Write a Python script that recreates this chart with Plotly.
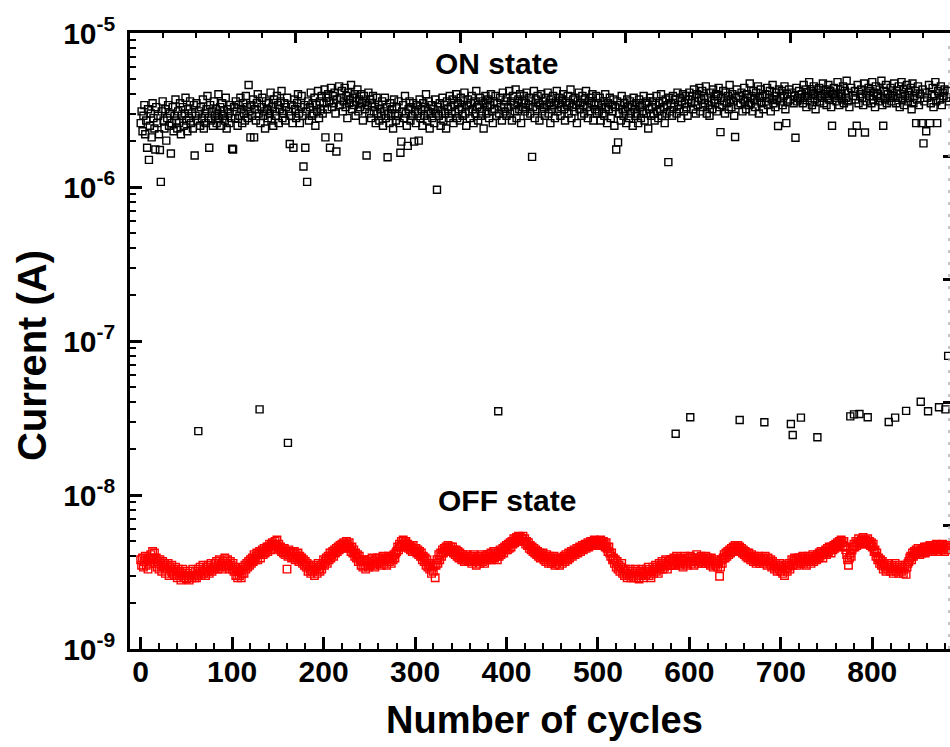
import plotly.graph_objects as go

# ON-state current, in microamperes (one value per cycle, starting at cycle 0)
on_current_uA = [
    2.6, 3.1, 2.3, 2.9, 3.4, 2.2, 2.7, 1.8, 3.2, 1.5, 2.5, 3.0, 2.1, 3.5, 2.8, 2.4, 1.75, 3.3, 2.6, 2.9,
    2.2, 1.74, 1.08, 3.1, 3.6, 2.7, 2.4, 3.2, 2.0, 2.8, 3.4, 2.5, 3.0, 1.65, 2.6, 3.3, 2.3, 2.9, 3.7, 2.7,
    2.4, 3.1, 2.6, 3.5, 2.2, 2.9, 3.3, 2.5, 3.0, 3.8, 2.7, 2.3, 3.2, 2.8, 3.6, 2.6, 3.0, 2.4, 3.4, 1.6,
    2.9, 3.5, 2.7, 0.026, 3.1, 2.5, 3.3, 2.8, 3.7, 2.4, 3.0, 2.6, 3.2, 3.9, 2.8, 1.8, 3.4, 2.7, 3.1, 2.5,
    3.6, 2.9, 3.2, 2.6, 3.0, 4.0, 2.8, 3.3, 2.5, 3.5, 2.9, 3.1, 2.7, 3.8, 2.4, 3.2, 3.0, 2.6, 3.4, 2.8,
    1.77, 1.75, 3.3, 2.8, 3.6, 3.1, 2.5, 3.4, 2.9, 3.8, 3.2, 2.6, 3.5, 3.0, 2.7, 3.9, 3.3, 2.8, 4.6, 3.1,
    2.1, 3.4, 2.9, 3.7, 2.1, 3.2, 2.7, 3.5, 4.0, 3.0, 0.036, 2.6, 3.3, 3.8, 2.9, 3.1, 2.4, 3.6, 3.2, 2.8,
    3.5, 3.0, 4.1, 2.7, 3.3, 2.5, 3.7, 3.1, 2.9, 3.9, 3.4, 2.6, 3.2, 3.6, 4.2, 2.8, 3.0, 3.5, 2.7, 3.3,
    3.8, 0.0218, 3.1, 1.9, 2.9, 3.4, 2.6, 1.8, 3.7, 3.2, 2.8, 3.5, 4.0, 3.0, 2.6, 3.3, 3.9, 2.9, 1.36, 3.4,
    1.8, 3.1, 1.08, 3.6, 2.7, 3.3, 4.1, 2.9, 3.5, 3.0, 3.8, 2.5, 3.4, 3.1, 4.2, 2.8, 3.6, 3.2, 3.9, 3.0,
    3.5, 4.3, 2.1, 3.8, 3.2, 4.0, 3.6, 1.8, 4.4, 3.3, 3.9, 3.5, 4.1, 3.0, 1.7, 3.7, 2.1, 4.5, 3.4, 3.8,
    4.2, 3.1, 3.6, 4.4, 3.3, 3.9, 2.8, 4.1, 3.5, 3.7, 4.6, 3.2, 3.8, 3.4, 4.0, 2.9, 3.6, 4.3, 3.1, 3.7,
    3.3, 4.0, 3.5, 2.7, 3.9, 3.2, 3.6, 1.6, 3.4, 4.1, 3.0, 3.7, 2.8, 3.5, 3.9, 3.1, 3.3, 2.6, 3.8, 3.0,
    3.4, 2.7, 3.2, 2.9, 3.6, 2.5, 3.1, 3.8, 2.8, 3.3, 1.56, 3.0, 2.6, 3.5, 2.9, 3.2, 2.4, 3.7, 3.0, 2.7,
    3.3, 2.9, 3.6, 2.6, 1.67, 1.97, 3.1, 3.4, 2.8, 3.9, 3.0, 2.5, 1.85, 3.2, 3.6, 2.7, 3.3, 2.9, 3.5, 1.97,
    3.1, 2.6, 3.4, 3.0, 2.0, 3.7, 2.8, 3.2, 2.5, 3.5, 2.9, 3.3, 4.0, 2.7, 3.1, 3.6, 2.4, 3.0, 3.4, 2.8,
    3.2, 2.6, 3.7, 3.0, 0.96, 3.3, 2.9, 3.5, 2.5, 3.1, 3.8, 2.7, 3.4, 3.0, 2.4, 3.6, 3.2, 2.8, 3.9, 3.3,
    3.0, 3.7, 2.6, 3.4, 3.1, 4.0, 2.8, 3.5, 3.2, 2.7, 3.8, 3.3, 2.9, 3.6, 4.1, 3.0, 2.5, 3.4, 3.7, 3.1,
    2.8, 3.5, 3.9, 3.2, 2.6, 3.6, 3.0, 4.2, 3.3, 2.7, 3.4, 3.8, 2.9, 3.1, 3.6, 2.4, 3.5, 3.9, 3.0, 3.3,
    3.7, 2.8, 3.4, 4.0, 3.1, 2.6, 3.6, 3.2, 3.9, 2.9, 3.5, 0.035, 3.0, 3.8, 3.3, 2.7, 4.1, 3.4, 3.1, 3.6,
    2.9, 3.8, 3.3, 4.2, 3.0, 3.6, 2.7, 3.9, 3.4, 3.1, 4.3, 2.8, 3.5, 3.7, 3.2, 4.0, 2.6, 3.6, 3.3, 3.9,
    3.1, 3.5, 4.1, 2.9, 3.4, 3.8, 3.0, 3.6, 1.57, 3.3, 4.2, 2.8, 3.7, 3.2, 3.9, 3.5, 2.7, 3.4, 4.0, 3.1,
    3.6, 3.3, 2.9, 3.8, 3.4, 4.1, 3.0, 3.5, 2.6, 3.7, 3.2, 3.9, 3.4, 2.8, 3.6, 4.2, 3.1, 3.5, 3.8, 2.9,
    3.3, 3.7, 4.0, 3.2, 2.7, 3.6, 3.4, 3.9, 3.0, 3.5, 4.3, 2.8, 3.3, 3.7, 3.1, 3.8, 3.4, 2.6, 3.6, 4.1,
    3.2, 3.5, 2.9, 3.9, 3.4, 3.0, 3.7, 4.2, 3.3, 2.8, 3.6, 3.1, 3.8, 3.5, 4.0, 2.7, 3.4, 3.2, 3.9, 3.0,
    3.5, 3.1, 3.8, 2.7, 3.4, 3.0, 3.6, 2.9, 4.0, 3.3, 2.6, 3.5, 3.2, 3.8, 2.8, 3.4, 3.1, 3.7, 2.5, 3.3,
    1.75, 3.6, 1.95, 3.0, 3.4, 2.7, 3.9, 3.2, 2.9, 3.5, 3.1, 2.6, 3.7, 3.3, 2.8, 3.6, 3.0, 3.4, 2.5, 3.8,
    3.2, 2.9, 3.5, 3.0, 2.6, 3.7, 3.3, 2.8, 3.4, 3.1, 3.9, 2.7, 3.5, 3.0, 3.6, 2.4, 3.2, 3.8, 2.9, 3.3,
    3.6, 3.0, 2.7, 3.4, 3.9, 3.1, 2.8, 3.5, 3.2, 4.0, 2.9, 3.6, 3.3, 2.6, 3.7, 3.0, 3.4, 1.45, 3.8, 3.1,
    3.5, 2.9, 3.9, 3.3, 3.7, 0.025, 3.0, 4.1, 3.4, 3.2, 3.8, 2.8, 3.6, 4.0, 3.1, 3.5, 3.9, 3.3, 2.9, 3.7,
    4.1, 0.032, 3.5, 3.9, 3.2, 4.3, 3.6, 3.0, 4.0, 3.4, 3.8, 4.4, 3.1, 3.7, 4.2, 3.3, 3.9, 3.5, 4.5, 3.0,
    3.8, 3.4, 2.9, 4.1, 3.6, 3.2, 4.3, 3.7, 3.5, 4.0, 3.1, 3.9, 4.4, 3.3, 2.27, 3.8, 3.4, 4.2, 3.6, 3.0,
    4.1, 3.5, 3.9, 3.2, 4.6, 3.7, 3.3, 4.0, 3.6, 2.9, 2.11, 3.8, 4.3, 3.4, 3.9, 0.0307, 3.5, 4.1, 3.1, 3.7,
    4.4, 3.6, 3.2, 4.0, 3.8, 3.4, 4.7, 3.5, 3.9, 3.1, 4.2, 3.7, 3.3, 4.1, 3.6, 4.5, 3.0, 3.8, 4.3, 3.5,
    3.9, 3.2, 0.0297, 4.0, 3.6, 4.4, 3.4, 3.8, 4.2, 3.1, 3.7, 4.6, 3.5, 3.9, 3.3, 4.1, 3.7, 2.49, 4.3, 3.6,
    3.8, 4.2, 3.4, 3.9, 4.5, 3.2, 2.6, 4.0, 3.6, 4.3, 3.7, 0.0289, 4.1, 0.0245, 3.5, 3.9, 2.09, 4.4, 3.6, 3.8,
    4.2, 3.7, 0.0318, 4.0, 3.5, 4.6, 3.8, 4.3, 3.3, 4.1, 3.9, 4.8, 3.6, 4.2, 3.4, 4.0, 4.5, 3.7, 3.2, 4.3,
    0.0237, 3.9, 4.4, 3.6, 4.1, 3.8, 4.7, 3.5, 4.0, 4.3, 3.4, 3.9, 4.6, 3.7, 4.2, 3.3, 2.5, 4.0, 4.4, 3.8,
    4.1, 3.6, 4.8, 3.9, 3.4, 4.3, 4.0, 3.7, 4.5, 3.5, 4.2, 3.8, 4.9, 3.6, 4.1, 3.3, 0.0324, 4.4, 2.26, 3.9,
    0.0334, 4.2, 3.7, 2.5, 4.6, 3.5, 0.0336, 4.0, 4.3, 3.8, 3.4, 4.7, 2.26, 4.1, 3.6, 0.032, 4.4, 3.9, 4.2, 3.5,
    4.8, 3.7, 4.1, 3.3, 4.5, 3.9, 4.0, 3.6, 4.3, 3.8, 4.9, 3.4, 2.5, 4.2, 3.7, 4.6, 3.5, 4.0, 0.0298, 3.8,
    4.4, 3.6, 4.1, 3.9, 4.7, 0.0318, 3.5, 4.2, 3.8, 4.5, 3.3, 4.0, 4.8, 3.7, 4.3, 3.4, 3.9, 0.0352, 4.6, 3.6,
    4.1, 3.8, 4.4, 3.2, 4.7, 3.5, 3.9, 4.2, 2.6, 3.7, 4.5, 3.4, 4.0, 0.0403, 2.6, 4.3, 1.92, 3.6, 4.1, 2.3,
    3.8, 0.035, 4.6, 2.6, 3.5, 4.0, 4.4, 3.3, 3.9, 4.8, 3.6, 2.6, 4.2, 0.0371, 3.7, 4.5, 3.4, 4.1, 3.9, 4.3,
    0.036, 3.8, 4.2, 0.080, 3.6,
]

# OFF-state current, in nanoamperes (one value per cycle, starting at cycle 0)
off_current_nA = [
    3.8, 3.5, 3.9, 3.4, 3.7, 4.0, 3.5, 3.8, 3.3, 3.9, 3.6, 4.1, 3.8, 4.3, 3.9, 4.2, 3.6, 3.9, 3.4, 3.7,
    3.3, 3.8, 3.5, 3.2, 3.7, 3.4, 3.6, 3.1, 3.5, 3.3, 3.6, 3.0, 3.4, 3.2, 3.5, 3.1, 3.3, 3.0, 3.4, 3.2,
    2.9, 3.3, 3.0, 3.2, 2.8, 3.1, 3.3, 2.9, 3.0, 3.2, 2.85, 3.1, 3.0, 2.8, 3.2, 3.0, 2.9, 3.3, 3.0, 2.9,
    3.2, 2.9, 3.0, 3.3, 3.1, 3.4, 3.0, 3.2, 3.5, 3.1, 3.3, 3.0, 3.4, 3.2, 3.5, 3.1, 3.3, 3.6, 3.2, 3.4,
    3.3, 3.6, 3.4, 3.7, 3.3, 3.5, 3.8, 3.4, 3.6, 3.3, 3.7, 3.5, 3.9, 3.4, 3.6, 3.8, 3.5, 3.3, 3.7, 3.5,
    3.3, 3.6, 3.2, 3.4, 3.0, 3.3, 2.9, 3.2, 3.0, 3.3, 2.9, 3.1, 3.4, 3.1, 3.5, 3.3, 3.6, 3.4, 3.7, 3.5,
    3.8, 3.6, 3.9, 3.7, 4.1, 3.8, 4.0, 4.2, 3.8, 4.1, 4.3, 3.9, 4.2, 4.4, 4.1, 4.5, 4.2, 4.4, 4.6, 4.3,
    4.6, 4.8, 4.4, 4.7, 4.9, 4.5, 4.8, 5.0, 4.7, 5.1, 4.6, 4.8, 4.4, 4.6, 4.3, 4.5, 4.2, 4.5, 4.1, 4.3,
    3.3, 4.0, 4.4, 4.1, 4.3, 3.9, 4.2, 4.0, 4.3, 3.8, 4.1, 3.9, 4.2, 3.7, 4.0, 3.8, 3.9, 3.6, 3.8, 3.5,
    3.7, 3.4, 3.6, 3.2, 3.5, 3.3, 3.1, 3.4, 3.2, 3.5, 3.0, 3.3, 3.4, 3.1, 3.6, 3.3, 3.2, 3.5, 3.3, 3.6,
    3.8, 3.5, 3.7, 3.9, 3.6, 4.0, 3.8, 4.2, 3.9, 4.1, 4.3, 4.0, 4.4, 4.2, 4.5, 4.3, 4.6, 4.4, 4.7, 4.5,
    4.8, 4.6, 4.9, 4.5, 4.7, 5.0, 4.8, 4.6, 4.9, 4.5, 4.3, 4.6, 4.2, 4.4, 4.0, 4.2, 3.9, 4.1, 3.7, 4.0,
    3.8, 3.5, 3.7, 3.4, 3.8, 3.5, 3.3, 3.7, 3.6, 3.4, 3.8, 3.5, 3.6, 3.9, 3.5, 3.7, 3.4, 3.8, 3.6, 3.9,
    3.6, 3.9, 3.7, 3.5, 3.8, 4.0, 3.6, 3.8, 3.9, 3.5, 3.8, 4.0, 3.7, 3.9, 3.6, 4.0, 3.8, 4.1, 3.9, 4.2,
    4.3, 4.6, 4.4, 4.8, 4.6, 5.0, 4.8, 5.1, 4.7, 4.9, 5.0, 4.6, 4.8, 4.5, 4.7, 4.4, 4.6, 4.3, 4.7, 4.5,
    4.3, 4.5, 4.2, 4.4, 4.1, 4.3, 4.0, 4.2, 3.8, 4.0, 3.7, 3.9, 3.5, 3.8, 3.4, 3.6, 3.3, 3.5, 3.1, 3.4,
    3.2, 3.5, 2.9, 3.5, 3.8, 3.6, 4.1, 3.8, 4.2, 4.0, 4.4, 4.2, 4.5, 4.3, 4.6, 4.4, 4.7, 4.5, 4.3, 4.6,
    4.3, 4.6, 4.2, 4.4, 4.1, 4.4, 4.0, 4.3, 3.9, 4.2, 4.0, 3.8, 4.1, 3.9, 3.7, 4.0, 3.8, 4.1, 3.7, 3.9,
    3.7, 4.0, 3.6, 3.9, 4.1, 3.7, 3.8, 3.5, 3.9, 3.7, 4.0, 3.6, 3.8, 4.1, 3.7, 3.9, 3.6, 4.0, 3.8, 4.1,
    3.8, 4.1, 3.9, 4.2, 3.8, 4.0, 4.3, 3.9, 4.1, 4.0, 3.8, 4.2, 4.0, 4.4, 4.1, 4.3, 4.5, 4.2, 4.6, 4.4,
    4.7, 4.4, 4.8, 4.5, 4.9, 4.6, 5.0, 4.8, 5.2, 4.9, 5.1, 5.3, 5.0, 5.4, 5.1, 5.3, 5.0, 5.2, 5.4, 5.0,
    5.2, 4.8, 5.0, 4.7, 4.9, 4.5, 4.7, 4.4, 4.6, 4.3, 4.5, 4.2, 4.4, 4.1, 4.3, 4.0, 4.2, 3.9, 4.1, 4.0,
    4.2, 3.8, 4.0, 3.7, 4.1, 3.9, 3.6, 4.0, 3.8, 3.6, 3.9, 3.7, 4.0, 3.5, 3.8, 3.6, 3.9, 3.7, 3.5, 3.8,
    3.9, 3.6, 3.8, 4.0, 3.7, 4.1, 3.9, 3.8, 4.2, 3.9, 4.1, 4.3, 4.0, 4.2, 4.4, 4.1, 4.3, 4.5, 4.2, 4.4,
    4.6, 4.3, 4.5, 4.7, 4.4, 4.6, 4.8, 4.5, 4.7, 4.9, 4.6, 4.8, 5.0, 4.7, 4.9, 4.8, 5.1, 4.7, 4.9, 5.0,
    4.8, 5.0, 4.7, 5.1, 4.9, 4.7, 5.0, 4.8, 4.6, 4.9, 4.5, 4.3, 4.6, 4.2, 4.0, 4.2, 3.8, 3.9, 3.6, 3.8,
    3.4, 3.7, 3.3, 3.5, 3.2, 3.4, 3.6, 3.1, 3.3, 3.0, 3.3, 3.1, 2.9, 3.2, 3.0, 3.3, 2.9, 3.1, 3.2, 2.9,
    3.1, 3.3, 2.9, 3.2, 3.0, 2.85, 3.2, 3.0, 3.3, 3.1, 2.9, 3.2, 3.0, 3.3, 3.1, 3.4, 3.0, 3.2, 2.9, 3.2,
    3.4, 3.1, 3.3, 3.5, 3.2, 3.4, 3.1, 3.6, 3.3, 3.5, 3.7, 3.3, 3.6, 3.4, 3.8, 3.5, 3.3, 3.7, 3.5, 3.8,
    3.5, 3.8, 3.6, 3.9, 3.5, 3.7, 4.0, 3.6, 3.8, 3.5, 3.9, 3.6, 3.8, 3.4, 3.7, 4.0, 3.6, 3.8, 3.5, 3.9,
    3.7, 4.0, 3.6, 3.9, 3.7, 3.5, 3.9, 3.7, 4.1, 3.8, 3.6, 3.9, 3.7, 4.0, 3.6, 3.9, 3.8, 3.6, 4.0, 3.7,
    3.9, 3.6, 3.8, 3.5, 3.9, 3.7, 3.4, 3.8, 3.6, 3.5, 3.7, 3.4, 3.6, 2.97, 3.4, 3.8, 3.6, 3.9, 4.1, 3.9,
    4.2, 4.0, 4.3, 4.1, 4.4, 4.2, 4.5, 4.3, 4.6, 4.4, 4.7, 4.3, 4.5, 4.7, 4.4, 4.6, 4.3, 4.5, 4.2, 4.4,
    4.1, 4.3, 4.0, 4.2, 3.9, 4.2, 4.0, 3.8, 4.1, 3.9, 3.7, 4.0, 3.8, 3.6, 3.9, 3.7, 4.0, 3.6, 3.8, 3.7,
    3.9, 3.6, 3.8, 4.0, 3.7, 3.5, 3.9, 3.7, 3.6, 3.8, 3.4, 3.7, 3.5, 3.3, 3.6, 3.4, 3.2, 3.5, 3.3, 3.6,
    3.2, 3.4, 3.1, 3.5, 3.0, 3.3, 3.5, 3.2, 3.4, 3.6, 3.3, 3.5, 3.8, 3.5, 3.7, 3.9, 3.6, 3.8, 3.5, 3.9,
    3.7, 3.9, 3.6, 3.8, 4.0, 3.6, 3.9, 3.7, 3.5, 3.8, 4.0, 3.7, 3.9, 3.6, 3.8, 4.1, 3.7, 3.9, 4.0, 3.8,
    4.1, 3.9, 4.2, 4.0, 4.3, 4.1, 3.9, 4.3, 4.2, 4.4, 4.1, 4.5, 4.3, 4.6, 4.4, 4.2, 4.6, 4.4, 4.7, 4.5,
    4.8, 4.6, 4.9, 4.7, 5.0, 4.8, 5.1, 4.9, 4.7, 5.0, 4.6, 4.4, 4.1, 3.8, 3.5, 3.9, 4.2, 4.0, 4.4, 4.6,
    4.8, 4.6, 5.0, 4.7, 4.9, 5.2, 4.8, 5.0, 5.1, 4.9, 5.3, 5.0, 4.8, 5.1, 4.9, 5.2, 4.8, 5.0, 4.7, 4.9,
    4.6, 4.8, 4.3, 4.4, 4.0, 4.2, 3.8, 3.9, 3.6, 3.8, 3.5, 3.7, 3.3, 3.6, 3.4, 3.2, 3.5, 3.3, 3.6, 3.4,
    3.2, 3.5, 3.3, 3.1, 3.4, 3.6, 3.2, 3.4, 3.3, 3.1, 3.5, 3.3, 3.2, 3.4, 3.1, 3.3, 3.5, 3.05, 3.4, 3.6,
    3.7, 3.9, 4.0, 3.8, 4.2, 4.0, 4.3, 4.1, 4.4, 4.2, 4.5, 4.3, 4.1, 4.4, 4.2, 4.5, 4.3, 4.6, 4.2, 4.4,
    4.6, 4.3, 4.5, 4.7, 4.4, 4.6, 4.3, 4.7, 4.5, 4.4, 4.8, 4.5, 4.3, 4.6, 4.7, 4.4, 4.6, 4.8, 4.5, 4.3,
    4.6, 4.4, 4.7, 4.5, 4.6,
]

x_tick_vals = [0, 100, 200, 300, 400, 500, 600, 700, 800]
x_tick_text = ["0", "100", "200", "300", "400", "500", "600", "700", "800"]
y_tick_exponents = [-9, -8, -7, -6, -5]
y_tick_text = ["10<sup>-9</sup>", "10<sup>-8</sup>", "10<sup>-7</sup>", "10<sup>-6</sup>", "10<sup>-5</sup>"]

x_title = "Number of cycles"
y_title = "Current (A)"
on_label = "ON state"
off_label = "OFF state"

on_cycles = list(range(len(on_current_uA)))
off_cycles = list(range(len(off_current_nA)))
on_current_A = [v * 1e-6 for v in on_current_uA]
off_current_A = [v * 1e-9 for v in off_current_nA]

FONT = "Liberation Sans, Arial, sans-serif"

fig = go.Figure()
fig.add_trace(go.Scatter(
    x=on_cycles, y=on_current_A, mode="markers", name=on_label,
    marker=dict(symbol="square-open", size=7, color="black", line=dict(width=1.4)),
    showlegend=False,
))
fig.add_trace(go.Scatter(
    x=off_cycles, y=off_current_A, mode="markers", name=off_label,
    marker=dict(symbol="square-open", size=7.5, color="#ff0000", line=dict(width=1.4)),
    showlegend=False,
))
# empty trace to hold the decorative top / right frame axes
fig.add_trace(go.Scatter(x=[], y=[], xaxis="x2", yaxis="y2", showlegend=False, hoverinfo="skip"))

y_tick_vals = [10.0 ** e for e in y_tick_exponents]
y_minor_vals = [m * 10.0 ** e for e in y_tick_exponents[:-1] for m in range(2, 10)]

fig.update_layout(
    width=950, height=747,
    margin=dict(l=130, r=0, t=33, b=98),
    paper_bgcolor="white", plot_bgcolor="white",
    font=dict(family=FONT, color="black", size=30, weight="bold"),
    xaxis=dict(
        range=[-11.7, 885.0], showgrid=False, zeroline=False,
        showline=True, linecolor="black", linewidth=2.5,
        tickmode="array", tickvals=x_tick_vals, ticktext=x_tick_text,
        ticks="inside", ticklen=12, tickwidth=2.5, tickcolor="black",
        tickfont=dict(family=FONT, size=30, weight="bold"),
        ticklabelstandoff=-6,
        minor=dict(dtick=20, tick0=0, ticks="inside", ticklen=6, tickwidth=2, tickcolor="black", showgrid=False),
    ),
    yaxis=dict(
        type="log", range=[-9, -5], showgrid=False, zeroline=False,
        showline=True, linecolor="black", linewidth=2.5,
        tickmode="array", tickvals=y_tick_vals, ticktext=y_tick_text,
        ticks="inside", ticklen=12, tickwidth=2.5, tickcolor="black",
        tickfont=dict(family=FONT, size=30, weight="bold"),
        ticklabelstandoff=6,
        minor=dict(tickmode="array", tickvals=y_minor_vals, ticks="inside", ticklen=6,
                   tickwidth=2, tickcolor="black", showgrid=False),
    ),
    xaxis2=dict(
        overlaying="x", side="top", anchor="y", range=[0, 820 / 33.04],
        showgrid=False, zeroline=False, showticklabels=False,
        showline=True, linecolor="black", linewidth=2.5,
        tick0=0, dtick=5, ticks="inside", ticklen=10, tickwidth=2.5, tickcolor="black",
        minor=dict(dtick=1, tick0=0, ticks="inside", ticklen=5, tickwidth=2, tickcolor="black", showgrid=False),
    ),
    yaxis2=dict(
        overlaying="y", side="right", anchor="x", range=[0, 1],
        showgrid=False, zeroline=False, showticklabels=False, showline=False,
        tick0=0, dtick=0.2, ticks="inside", ticklen=7, tickwidth=3, tickcolor="black",
    ),
    shapes=[dict(type="line", xref="paper", yref="paper", x0=0.9988, x1=0.9988, y0=0, y1=0.985,
                 line=dict(color="#b0b0b0", width=1.5, dash="3px,9px"))],
    annotations=[
        dict(text=x_title, xref="paper", yref="paper", x=0.5055, y=-0.1153,
             xanchor="center", yanchor="middle", showarrow=False,
             font=dict(family=FONT, size=38, weight="bold")),
        dict(text=y_title, xref="paper", yref="paper", x=-0.1195, y=0.4756, textangle=-90,
             xanchor="center", yanchor="middle", showarrow=False,
             font=dict(family=FONT, size=40, weight="bold")),
        dict(text=on_label, xref="x", yref="y", x=389.6, y=-5.201,
             xanchor="center", yanchor="middle", showarrow=False,
             font=dict(family=FONT, size=30, weight="bold")),
        dict(text=off_label, xref="x", yref="y", x=400.5, y=-8.0325,
             xanchor="center", yanchor="middle", showarrow=False,
             font=dict(family=FONT, size=30, weight="bold")),
    ],
)

fig.write_html("out.html")
